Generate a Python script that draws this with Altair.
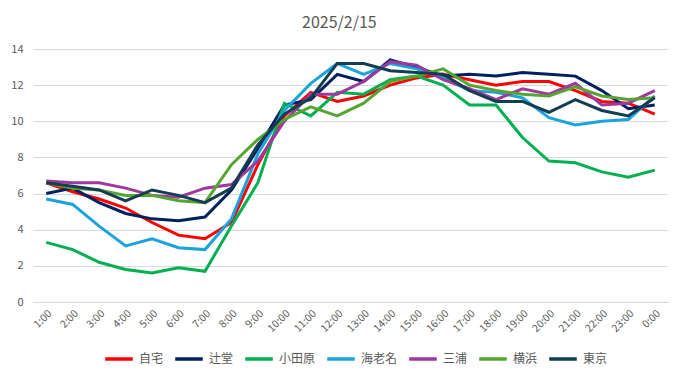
import altair as alt
import pandas as pd

hours = ["1:00", "2:00", "3:00", "4:00", "5:00", "6:00", "7:00", "8:00", "9:00", "10:00",
         "11:00", "12:00", "13:00", "14:00", "15:00", "16:00", "17:00", "18:00", "19:00",
         "20:00", "21:00", "22:00", "23:00", "0:00"]

series_names = ["自宅", "辻堂", "小田原", "海老名", "三浦", "横浜", "東京"]
series_colors = ["#FF0000", "#002060", "#00B050", "#1AA3DD", "#A0399E", "#56A532", "#123D52"]

jitaku = [6.6, 6.1, 5.7, 5.2, 4.4, 3.7, 3.5, 4.4, 7.6, 10.3, 11.6, 11.1, 11.4, 12.0, 12.4, 12.6,
          12.3, 12.0, 12.2, 12.2, 11.7, 11.1, 11.0, 10.4]
tsujido = [6.0, 6.3, 5.5, 4.9, 4.6, 4.5, 4.7, 6.2, 8.5, 10.9, 11.2, 12.6, 12.2, 13.4, 13.0, 12.5,
           12.6, 12.5, 12.7, 12.6, 12.5, 11.7, 10.7, 10.9]
odawara = [3.3, 2.9, 2.2, 1.8, 1.6, 1.9, 1.7, 4.2, 6.6, 11.0, 10.3, 11.6, 11.5, 12.3, 12.5, 12.0,
           10.9, 10.9, 9.1, 7.8, 7.7, 7.2, 6.9, 7.3]
ebina = [5.7, 5.4, 4.2, 3.1, 3.5, 3.0, 2.9, 4.6, 8.2, 10.6, 12.1, 13.2, 12.6, 13.2, 12.9, 12.4,
         11.7, 11.6, 11.3, 10.2, 9.8, 10.0, 10.1, 11.4]
miura = [6.7, 6.6, 6.6, 6.3, 5.9, 5.8, 6.3, 6.5, 7.8, 10.0, 11.5, 11.5, 12.2, 13.3, 13.1, 12.3,
         11.8, 11.2, 11.8, 11.5, 12.1, 10.9, 11.0, 11.7]
yokohama = [6.6, 6.3, 6.2, 5.9, 5.9, 5.6, 5.5, 7.6, 9.0, 10.1, 10.8, 10.3, 11.0, 12.2, 12.5, 12.9,
            12.0, 11.7, 11.5, 11.4, 11.9, 11.4, 11.2, 11.3]
tokyo = [6.6, 6.4, 6.2, 5.6, 6.2, 5.9, 5.5, 6.3, 8.7, 10.4, 11.3, 13.2, 13.2, 12.8, 12.7, 12.6,
         11.7, 11.1, 11.1, 10.5, 11.2, 10.6, 10.3, 11.3]

all_values = [jitaku, tsujido, odawara, ebina, miura, yokohama, tokyo]

rows = []
for name, vals in zip(series_names, all_values):
    for h, v in zip(hours, vals):
        rows.append({"time": h, "series": name, "value": v})
df = pd.DataFrame(rows)

FONT = "Noto Sans CJK JP"
GRAY = "#595959"

chart = alt.Chart(df).mark_line(strokeWidth=3).encode(
    x=alt.X("time:N", sort=hours,
            scale=alt.Scale(type="point", padding=0.5),
            axis=alt.Axis(title=None, labelAngle=-45, ticks=False, grid=False,
                          domainColor="#D9D9D9", labelColor=GRAY, labelFontSize=10.5,
                          labelFont=FONT, labelPadding=6)),
    y=alt.Y("value:Q", scale=alt.Scale(domain=[0, 14]),
            axis=alt.Axis(title=None, values=[0, 2, 4, 6, 8, 10, 12, 14], ticks=False,
                          domain=False, gridColor="#D9D9D9", labelColor=GRAY,
                          labelFontSize=11, labelFont=FONT, labelPadding=10)),
    color=alt.Color("series:N",
                    scale=alt.Scale(domain=series_names, range=series_colors),
                    legend=alt.Legend(title=None, orient="none", direction="horizontal",
                                      legendX=70, legendY=294,
                                      symbolType="stroke", symbolSize=760,
                                      symbolStrokeWidth=3.5, labelColor=GRAY,
                                      labelFontSize=12, labelFont=FONT, labelOffset=4,
                                      columnPadding=4)),
).properties(
    width=635,
    height=253,
    padding={"left": 2, "top": 7, "right": 5, "bottom": 5},
    title=alt.TitleParams("2025/2/15", fontSize=16, font=FONT, color=GRAY,
                          fontWeight="normal", frame="bounds", anchor="middle", offset=12),
).configure_view(stroke=None)

chart.save("out.html", embed_options={"renderer": "svg", "actions": False})
